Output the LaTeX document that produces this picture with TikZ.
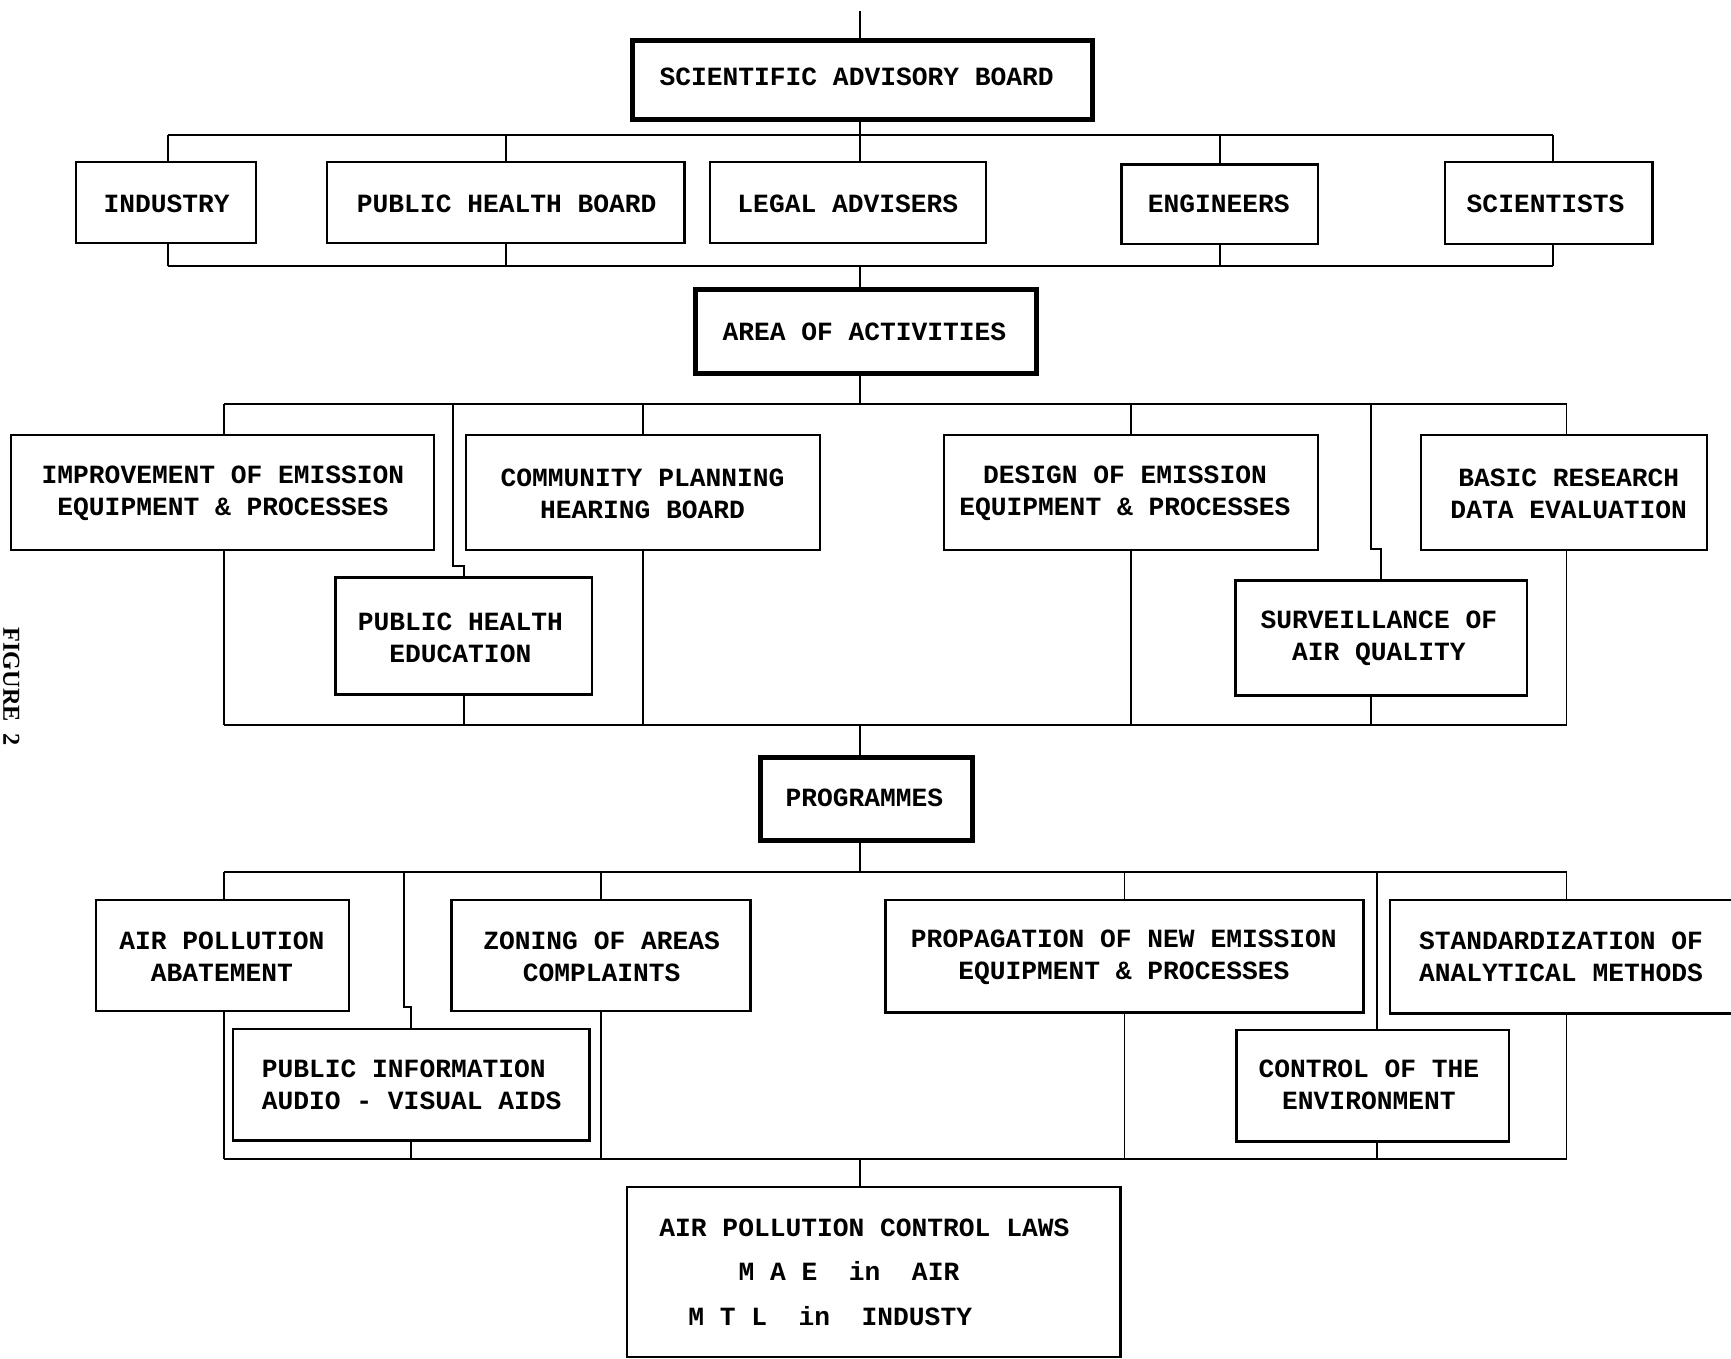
\documentclass[tikz,border=0pt]{standalone}
\usepackage{fontspec}
\newfontfamily\tw{Liberation Mono}
\newfontfamily\figfont{Liberation Serif}
\usetikzlibrary{fit}
\begin{document}
\begin{tikzpicture}[x=1pt,y=-1pt,
  tt/.style={font=\tw\bfseries\fontsize{23.8}{29}\selectfont},
  box/.style={draw, line width=2.2pt, inner sep=0pt, outer sep=0pt},
  bigbox/.style={box, line width=4.5pt},
  conn/.style={line width=1.6pt},
  txt/.style={inner sep=0pt, align=center, tt}]
\useasboundingbox[fill=white] (0,0) rectangle (1568,1231);

% ---- boxes
\node[bigbox, fit={(573,37)(990,108)}] (sab) {};
\node[box, fit={(69,147)(232,220)}] (ind) {};
\node[box, fit={(296,147)(620,220)}] (phb) {};
\node[box, fit={(643,147)(893,220)}] (leg) {};
\node[box, fit={(1016,149)(1194,221)}] (eng) {};
\node[box, fit={(1309,147)(1497,221)}] (sci) {};
\node[bigbox, fit={(630,262)(939,338)}] (area) {};
\node[box, fit={(10,394)(393,498)}] (imp) {};
\node[box, fit={(422,394)(743,498)}] (com) {};
\node[box, fit={(304,523)(536,629)}] (phe) {};
\node[box, fit={(855,394)(1194,498)}] (des) {};
\node[box, fit={(1287,394)(1546,498)}] (bas) {};
\node[box, fit={(1119,526)(1383,630)}] (sur) {};
\node[bigbox, fit={(689,686)(881,761)}] (prg) {};
\node[box, fit={(87,815)(316,916)}] (apa) {};
\node[box, fit={(409,815)(680,916)}] (zon) {};
\node[box, fit={(211,932)(534,1033)}] (pin) {};
\node[box, fit={(802,815)(1235,917)}] (prp) {};
\node[box, fit={(1259,815)(1570,918)}] (std) {};
\node[box, fit={(1120,933)(1367,1034)}] (ctl) {};
\node[box, fit={(568,1075)(1015,1229)}] (law) {};

% ---- texts
\node[txt] (sabt) at (776,70) {SCIENTIFIC ADVISORY BOARD};
\node[txt] (indt) at (151,185) {INDUSTRY};
\node[txt] (phbt) at (459,185) {PUBLIC HEALTH BOARD};
\node[txt] (legt) at (768,185) {LEGAL ADVISERS};
\node[txt] (engt) at (1104,185) {ENGINEERS};
\node[txt] (scit) at (1400,185) {SCIENTISTS};
\node[txt] (areat) at (783,301) {AREA OF ACTIVITIES};
\node[txt] (impt) at (202,447) {IMPROVEMENT OF EMISSION\\EQUIPMENT \& PROCESSES};
\node[txt] (comt) at (582,447) {COMMUNITY PLANNING\\HEARING BOARD};
\node[txt] (phet) at (417,578) {PUBLIC HEALTH\\EDUCATION};
\node[txt] (dest) at (1019,447) {DESIGN OF EMISSION\\EQUIPMENT \& PROCESSES};
\node[txt] (bast) at (1421,447) {BASIC RESEARCH\\DATA EVALUATION};
\node[txt] (surt) at (1249,578) {SURVEILLANCE OF\\AIR QUALITY};
\node[txt] (prgt) at (783,723) {PROGRAMMES};
\node[txt] (apat) at (201,867) {AIR POLLUTION\\ABATEMENT};
\node[txt] (zont) at (545,867) {ZONING OF AREAS\\COMPLAINTS};
\node[txt, anchor=west, align=left] (pint) at (237,983) {PUBLIC INFORMATION\\AUDIO - VISUAL AIDS};
\node[txt] (prpt) at (1018,867) {PROPAGATION OF NEW EMISSION\\EQUIPMENT \& PROCESSES};
\node[txt] (stdt) at (1414,867) {STANDARDIZATION OF\\ANALYTICAL METHODS};
\node[txt] (ctlt) at (1240,983) {CONTROL OF THE\\ENVIRONMENT};
\node[txt] (law1) at (783,1112) {AIR POLLUTION CONTROL LAWS};
\node[txt] (law2) at (769,1151) {M~A~E~~in~~AIR};
\node[txt] (law3) at (752,1192) {M~T~L~~in~~INDUSTY};

\node[rotate=-90, anchor=base, inner sep=0pt, font=\figfont\bfseries\fontsize{22}{26}\selectfont] (fig) at (3,622) {FIGURE~~2};

% ---- bus coordinates
\coordinate (top) at (779,10);
\coordinate (b1L) at (152,122);  \coordinate (b1R) at (1407,122);
\coordinate (b2L) at (152,241);  \coordinate (b2R) at (1407,241);
\coordinate (b3L) at (203,366);  \coordinate (b3R) at (1419,366);
\coordinate (b4L) at (203,657);  \coordinate (b4R) at (1419,657);
\coordinate (b5L) at (203,790);  \coordinate (b5R) at (1419,790);
\coordinate (b6L) at (203,1050); \coordinate (b6R) at (1419,1050);
\coordinate (j1) at (410,366);
\coordinate (j2) at (1242,366);
\coordinate (j3) at (366,790);
\coordinate (j4) at (1247,790);

% ---- connectors, level 1
\draw[conn] (top) -- (top |- sab.north);
\draw[conn] (top |- sab.south) -- (top |- b1L);
\draw[conn] (b1L) -- (b1R);
\draw[conn] (b1L) -- (b1L |- ind.north);
\draw[conn] (phb.north) -- (phb.north |- b1L);
\draw[conn] (top |- b1L) -- (top |- leg.north);
\draw[conn] (eng.north) -- (eng.north |- b1L);
\draw[conn] (b1R) -- (b1R |- sci.north);
\draw[conn] (b1L |- ind.south) -- (b2L);
\draw[conn] (phb.south) -- (phb.south |- b2L);
\draw[conn] (eng.south) -- (eng.south |- b2L);
\draw[conn] (b1R |- sci.south) -- (b2R);
\draw[conn] (b2L) -- (b2R);
\draw[conn] (top |- b2L) -- (top |- area.north);

% ---- level 2
\draw[conn] (top |- area.south) -- (top |- b3L);
\draw[conn] (b3L) -- (b3R);
\draw[conn] (b3L) -- (b3L |- imp.north);
\draw[conn] (j1) -- ++(0,147) -| (phe.north);
\draw[conn] (com.north) -- (com.north |- b3L);
\draw[conn] (des.north) -- (des.north |- b3L);
\draw[conn] (j2) -- ++(0,131) -| (sur.north);
\draw[conn] (b3R) -- (b3R |- bas.north);
\draw[conn] (b3L |- imp.south) -- (b4L);
\draw[conn] (phe.south) -- (phe.south |- b4L);
\draw[conn] (com.south) -- (com.south |- b4L);
\draw[conn] (des.south) -- (des.south |- b4L);
\draw[conn] (j2 |- sur.south) -- (j2 |- b4L);
\draw[conn] (b3R |- bas.south) -- (b4R);
\draw[conn] (b4L) -- (b4R);
\draw[conn] (top |- b4L) -- (top |- prg.north);

% ---- level 3
\draw[conn] (top |- prg.south) -- (top |- b5L);
\draw[conn] (b5L) -- (b5R);
\draw[conn] (b5L) -- (b5L |- apa.north);
\draw[conn] (j3) -- ++(0,122) -| (pin.north);
\draw[conn] (zon.north) -- (zon.north |- b5L);
\draw[conn] (prp.north) -- (prp.north |- b5L);
\draw[conn] (j4) -- (j4 |- ctl.north);
\draw[conn] (b5R) -- (b5R |- std.north);
\draw[conn] (b5L |- apa.south) -- (b6L);
\draw[conn] (pin.south) -- (pin.south |- b6L);
\draw[conn] (zon.south) -- (zon.south |- b6L);
\draw[conn] (prp.south) -- (prp.south |- b6L);
\draw[conn] (j4 |- ctl.south) -- (j4 |- b6L);
\draw[conn] (b5R |- std.south) -- (b6R);
\draw[conn] (b6L) -- (b6R);
\draw[conn] (top |- b6L) -- (top |- law.north);
\end{tikzpicture}
\end{document}
